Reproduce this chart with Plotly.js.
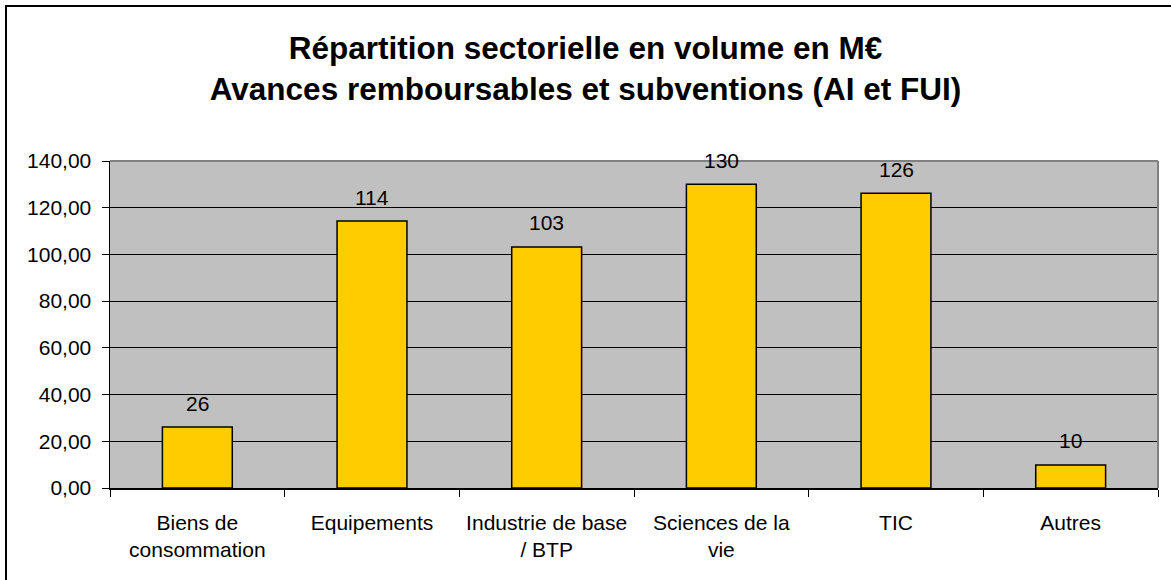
<!DOCTYPE html>
<html>
<head>
<meta charset="utf-8">
<script src="https://cdn.plot.ly/plotly-3.0.1.min.js"></script>
<style>
html,body{margin:0;padding:0;background:#fff;}
#wrap{position:relative;width:1171px;height:580px;overflow:hidden;}
#chart{width:1171px;height:580px;}
#frame{position:absolute;left:5px;top:5px;width:2000px;height:2000px;border-left:2px solid #000;border-top:2px solid #000;pointer-events:none;}
</style>
</head>
<body>
<div id="wrap"><div id="chart"></div><div id="frame"></div></div>
<script>
const categories = ["Biens de<br>consommation", "Equipements", "Industrie de base<br>/ BTP", "Sciences de la<br>vie", "TIC", "Autres"];
const values = [26.1, 114.3, 103.2, 130.0, 126.2, 9.9];
const valueLabels = ["26", "114", "103", "130", "126", "10"];
const titleLines = ["Répartition sectorielle en volume en M€", "Avances remboursables et subventions (AI et FUI)"];

const FONT = "Liberation Sans, Arial, sans-serif";

const trace = {
  type: "bar",
  x: categories,
  y: values,
  marker: {color: "#FFCC00", line: {color: "#000000", width: 1.5}},
  hoverinfo: "skip"
};

const annotations = categories.map((c, i) => ({
  x: c, y: values[i], xref: "x", yref: "y",
  text: valueLabels[i], showarrow: false,
  yanchor: "middle", yshift: 24,
  font: {family: FONT, size: 21, color: "#000"}
}));

const layout = {
  width: 1171, height: 580,
  margin: {l: 110, r: 13, t: 161, b: 92},
  paper_bgcolor: "#ffffff",
  plot_bgcolor: "#c0c0c0",
  separators: ",.",
  bargap: 0.6,
  showlegend: false,
  font: {family: FONT, size: 21, color: "#000"},
  title: {
    text: "<b>" + titleLines.join("<br>") + "</b>",
    x: 0.5, xref: "container", xanchor: "center",
    y: 0.898, yref: "container", yanchor: "middle",
    font: {family: FONT, size: 31.5, color: "#000"}
  },
  xaxis: {
    type: "category",
    tickson: "boundaries",
    ticks: "outside", ticklen: 7, tickcolor: "#000", tickwidth: 1,
    ticklabelstandoff: 15,
    showline: true, linecolor: "#000", linewidth: 1.5,
    showgrid: false, zeroline: false,
    tickfont: {family: FONT, size: 21, color: "#000"},
    fixedrange: true
  },
  yaxis: {
    range: [0, 140], dtick: 20, tick0: 0,
    tickformat: ".2f",
    ticks: "outside", ticklen: 7, tickcolor: "#000", tickwidth: 1,
    ticklabelstandoff: 6,
    showline: true, linecolor: "#000", linewidth: 1.5,
    showgrid: true, gridcolor: "#000", gridwidth: 1,
    zeroline: false,
    tickfont: {family: FONT, size: 21, color: "#000"},
    fixedrange: true
  },
  shapes: [
    {type: "line", xref: "paper", yref: "paper", x0: 0, x1: 1, y0: 1, y1: 1, line: {color: "#808080", width: 2}, layer: "above"},
    {type: "line", xref: "paper", yref: "paper", x0: 1, x1: 1, y0: 0, y1: 1, line: {color: "#808080", width: 2}, layer: "above"}
  ],
  annotations: annotations
};

Plotly.newPlot("chart", [trace], layout, {staticPlot: true, displayModeBar: false});
</script>
</body>
</html>
